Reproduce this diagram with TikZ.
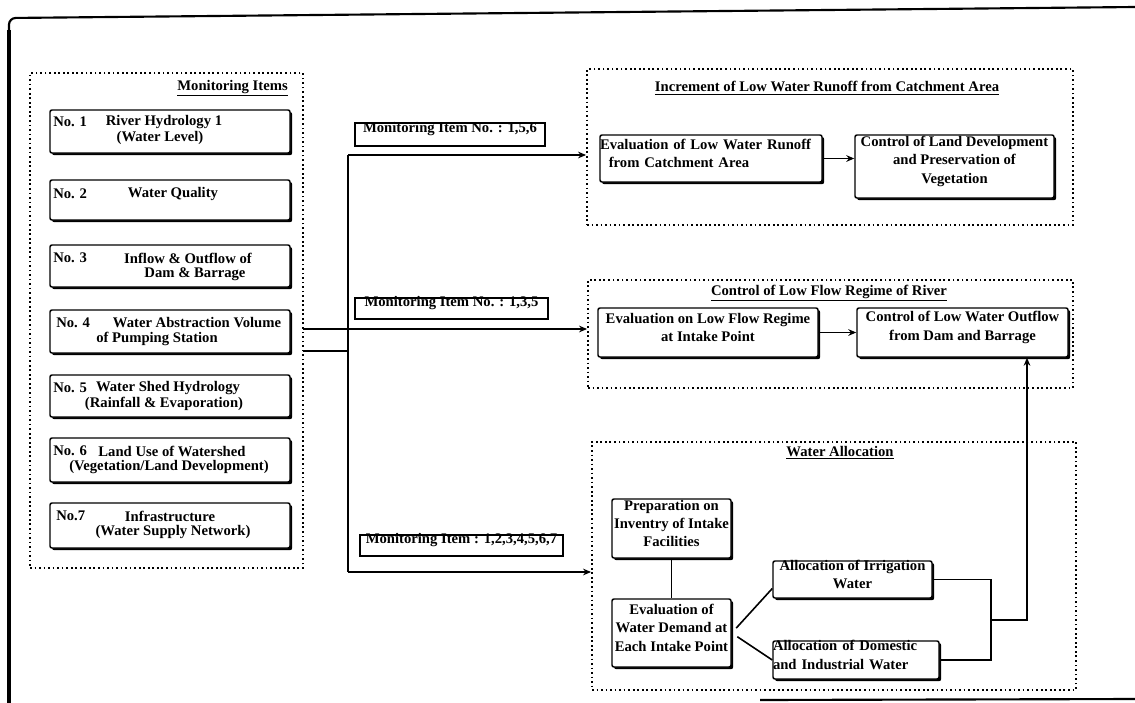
\documentclass[tikz,border=0pt]{standalone}
\usepackage{fontspec}
\setmainfont{Liberation Serif}
\usetikzlibrary{fit,shadows,arrows.meta,calc}
\begin{document}
\begin{tikzpicture}[x=0.75pt,y=-0.75pt,
  every node/.style={font=\fontsize{11}{13.8}\selectfont\bfseries, inner sep=0pt},
  grp/.style={draw, line width=1.4pt, dash pattern=on 1.3pt off 2.1pt},
  ibox/.style={draw, line width=1.1pt, rounded corners=1.5pt, fill=white,
     drop shadow={shadow xshift=1.6pt, shadow yshift=-1.6pt, opacity=1, fill=black},
     inner sep=0pt, align=center},
  lbox/.style={draw, line width=1pt, fill=white, inner sep=0pt},
  conn/.style={line width=1.2pt},
  arr/.style={conn, -{Stealth[length=6pt,width=5pt]}},
]
\useasboundingbox (0,0) rectangle (1135,703);
\fill[white] (0,0) rectangle (1135,703);

% outer frame
\draw[line width=1.6pt, rounded corners=5pt] (1135,7) -- (9,18) -- (9,703);
\draw[line width=2.4pt] (9,30) -- (9,703);
\draw[line width=1.6pt] (760,700) -- (1135,699);

% monitoring items
\node[grp, fit={(30,73) (303,568)}] (mon) {};
\node[anchor=east] (monT) at (288,88) {\underline{Monitoring Items}};

\node[ibox, fit={(50,110) (290,153)}] (i1) {};
\node[anchor=west] (i1n) at (53,122) {No. 1};
\node (i1a) at (164,122) {River Hydrology 1};
\node (i1b) at (160,138) {(Water Level)};

\node[ibox, fit={(50,180) (290,220)}] (i2) {};
\node[anchor=west] (i2n) at (53,194) {No. 2};
\node (i2a) at (173,194) {Water Quality};

\node[ibox, fit={(50,245) (290,287)}] (i3) {};
\node[anchor=west] (i3n) at (53,258) {No. 3};
\node (i3a) at (188,258) {Inflow \& Outflow of};
\node (i3b) at (195,274) {Dam \& Barrage};

\node[ibox, fit={(50,310) (290,353)}] (i4) {};
\node[anchor=west] (i4n) at (56,323) {No. 4};
\node (i4a) at (197,323) {Water Abstraction Volume};
\node (i4b) at (157,339) {of Pumping Station};

\node[ibox, fit={(50,375) (290,417)}] (i5) {};
\node[anchor=west] (i5n) at (53,388) {No. 5};
\node (i5a) at (168,388) {Water Shed Hydrology};
\node (i5b) at (164,404) {(Rainfall \& Evaporation)};

\node[ibox, fit={(50,438) (290,482)}] (i6) {};
\node[anchor=west] (i6n) at (53,451) {No. 6};
\node (i6a) at (172,451) {Land Use of Watershed};
\node (i6b) at (169,467) {(Vegetation/Land Development)};

\node[ibox, fit={(50,503) (290,548)}] (i7) {};
\node[anchor=west] (i7n) at (56,516) {No.7};
\node (i7a) at (170,516) {Infrastructure};
\node (i7b) at (173,532) {(Water Supply Network)};

% increment group
\node[grp, fit={(587,69) (1073,225)}] (inc) {};
\node (incT) at (827,88) {\underline{Increment of Low Water Runoff from Catchment Area}};
\node[ibox, fit={(600,135) (822,182)}, align=left] (er) {Evaluation of Low Water Runoff\\\hspace*{0.6em}from Catchment Area};
\node[ibox, fit={(855,135) (1054,198)}] (cl) {Control of Land Development\\and Preservation of\\Vegetation};
\draw[arr] (er.east) -- (er.east -| cl.west);

% control of low flow group
\node[grp, fit={(588,280) (1073,388)}] (cfl) {};
\node (cflT) at (829,293) {\underline{Control of Low Flow Regime of River}};
\node[ibox, fit={(598,308) (818,357)}] (el) {Evaluation on Low Flow Regime\\at Intake Point};
\node[ibox, fit={(857,308) (1068,357)}] (co) {Control of Low Water Outflow\\from Dam and Barrage};
\draw[arr] (el) -- (co);

% water allocation group
\node[grp, fit={(592,442) (1076,690)}] (wa) {};
\node (waT) at (840,453) {\underline{Water Allocation}};
\node[ibox, fit={(612,499) (731,558)}] (pr) {Preparation on\\Inventry of Intake\\Facilities};
\node[ibox, fit={(612,599) (731,667)}] (ed) {Evaluation of\\Water Demand at\\Each Intake Point};
\node[ibox, fit={(773,561) (932,598)}] (ir) {Allocation of Irrigation\\Water};
\node[ibox, fit={(773,641) (939,679)}, align=left] (dm) {Allocation of Domestic\\and Industrial Water};
\draw[conn] (pr) -- (ed);
\draw[conn, shorten <=5pt] (ed.east) -- ($(ir.west)+(0,9)$);
\draw[conn, shorten <=5pt] (ed.east) -- (dm.west);
\coordinate (j) at (991,620);
\coordinate (k) at (1027,620);
\draw[conn] (ir.east) -| (j) |- (dm.east);
\draw[line width=1.5pt, -{Stealth[length=6pt,width=5pt]}] (j) -- (k) -- (k |- co.south);

% left connectors
\coordinate (b1) at (348,155);
\coordinate (b2) at (348,572);
\coordinate (m1) at (303,329);
\coordinate (m2) at (303,351);
\draw[conn] (b1) -- (b2);
\draw[arr] (b1) -- (b1 -| inc.west);
\draw[arr] (m1) -- (m1 -| cfl.west);
\draw[conn] (m2) -- (m2 -| b1);
\draw[arr] (b2) -- (b2 -| wa.west);

% labels
\node[lbox, fit={(355,123) (545,146)}] (l1) {Monitoring Item No. : 1,5,6};
\node[lbox, fit={(355,298) (548,319)}] (l2) {Monitoring Item No. : 1,3,5};
\node[lbox, fit={(360,535) (563,556)}] (l3) {Monitoring Item : 1,2,3,4,5,6,7};
\end{tikzpicture}
\end{document}
